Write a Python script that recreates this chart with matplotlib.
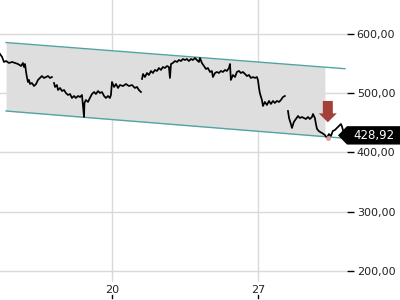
import numpy as np
import matplotlib
matplotlib.use("Agg")
import matplotlib.pyplot as plt
from matplotlib.patches import Polygon, FancyArrow
from matplotlib.transforms import blended_transform_factory

# ---- data (day of month, price) ; NaN = gap between sessions ----
days = [14.63, 14.73, 14.82, 14.92, 15.06, 15.21, 15.35, 15.49, 15.64, 15.73, 15.78, 15.83, 15.88, 15.92,
        15.97, 16.02, 16.07, 16.16, 16.26, 16.36, 16.45, 16.55, 16.64, 16.74, 16.84, 16.93, 17.03, 17.12,
        17.17,
        17.22, 17.27, 17.36, 17.41, 17.51, 17.60, 17.70, 17.79, 17.89, 17.99, 18.08, 18.18, 18.27, 18.37,
        18.47, 18.56, 18.66, 18.68, 18.75, 18.85, 18.94, 19.04, 19.14, 19.23, 19.33, 19.42, 19.52, 19.62,
        19.71, 19.81, 19.90, 19.95, 20.00, 20.10, 20.19, 20.29, 20.38, 20.53, 20.67, 20.81, 20.96, 21.10,
        21.20, 21.29, 21.39,
        21.41,
        21.44, 21.49, 21.58, 21.68, 21.77, 21.87, 21.96, 22.06, 22.16, 22.25, 22.35, 22.44, 22.54, 22.64,
        22.73, 22.78, 22.83, 22.92, 23.02, 23.12, 23.21, 23.31, 23.40, 23.50, 23.59, 23.69, 23.79, 23.88,
        23.98, 24.07, 24.17, 24.22, 24.31, 24.41, 24.51, 24.60, 24.70, 24.79, 24.84, 24.94, 25.03, 25.13,
        25.22, 25.32, 25.42, 25.51, 25.61, 25.66, 25.70, 25.80, 25.90, 25.99, 26.09, 26.18, 26.28, 26.38,
        26.47, 26.57, 26.66, 26.76, 26.85, 26.95, 27.00, 27.05, 27.09, 27.19, 27.24, 27.33, 27.43, 27.53,
        27.62, 27.72, 27.81, 27.91, 28.01, 28.10, 28.20, 28.29,
        28.36,
        28.44, 28.49, 28.58, 28.63, 28.72, 28.82, 28.92, 29.01, 29.11, 29.20, 29.30, 29.40, 29.49, 29.59,
        29.64, 29.73, 29.78, 29.83, 29.92, 30.02, 30.11, 30.21, 30.31, 30.40, 30.50, 30.59, 30.69, 30.79,
        30.88, 30.98, 31.02, 31.12, 31.22]
prices = [566.3, 561.2, 552.8, 554.4, 551.1, 552.8, 551.1, 549.4, 546.0, 551.1, 544.3, 549.4, 535.9, 527.4,
          519.0, 522.4, 515.6, 517.3, 512.2, 515.6, 522.4, 525.8, 529.1, 525.8, 527.4, 529.1, 525.8, 527.4,
          np.nan,
          517.3, 510.6, 513.9, 505.5, 508.9, 503.8, 505.5, 500.4, 497.1, 498.7, 492.0, 495.4, 492.0, 495.4,
          493.7, 497.1, 459.9, 483.6, 488.6, 485.3, 492.0, 498.7, 502.1, 498.7, 503.8, 500.4, 502.1, 495.4,
          492.0, 495.4, 492.0, 497.1, 519.0, 510.6, 515.6, 508.9, 513.9, 512.2, 515.6, 512.2, 513.9, 508.9,
          510.6, 505.5, 502.1,
          np.nan,
          524.1, 532.5, 527.4, 534.2, 530.8, 537.6, 534.2, 539.3, 537.6, 542.6, 539.3, 544.3, 542.6, 546.0,
          544.3, 525.8, 549.4, 551.1, 554.4, 552.8, 556.1, 554.4, 557.8, 556.1, 557.8, 554.4, 557.8, 556.1,
          559.5, 556.1, 552.8, 559.5, 551.1, 546.0, 540.9, 542.6, 535.9, 537.6, 527.4, 534.2, 535.9, 534.2,
          537.6, 535.9, 539.3, 537.6, 542.6, 549.4, 522.4, 530.8, 527.4, 535.9, 537.6, 534.2, 535.9, 532.5,
          529.1, 530.8, 525.8, 527.4, 525.8, 527.4, 522.4, 508.9, 500.4, 488.6, 478.5, 485.3, 480.2, 487.0,
          481.9, 487.0, 483.6, 487.0, 485.3, 488.6, 493.7, 495.4,
          np.nan,
          470.1, 458.2, 448.1, 441.4, 451.5, 456.5, 461.6, 458.2, 459.9, 458.2, 456.5, 459.9, 456.5, 459.9,
          465.0, 458.2, 448.1, 440.0, 436.0, 434.0, 432.0, 429.5, 424.5, 431.2, 427.9, 436.3, 438.0, 441.4,
          444.7, 448.1, 444.7, 432.9, 428.92]

last_value = 428.92
last_label = "428,92"

# trend channel endpoints
chan_days = [14.92, 31.17]
chan_upper = [585.6, 541.4]
chan_lower = [470.0, 424.0]
fill_end_day = 30.21

# sell signal
signal_day = 30.35
signal_top = 487.0
signal_bottom = 451.0
signal_point = 424.0

yticks = [200, 300, 400, 500, 600]
ytick_labels = ["200,00", "300,00", "400,00", "500,00", "600,00"]
xticks = [20, 27]
xtick_labels = ["20", "27"]

# ---- figure ----
fig = plt.figure(figsize=(4, 3), dpi=100)
ax = fig.add_axes([0.0, 0.06, 0.8675, 0.94])
ax.set_xlim(14.63, 31.27)
ax.set_ylim(181.4, 657.4)
for s in ax.spines.values():
    s.set_visible(False)

ax.set_yticks(yticks)
ax.set_yticklabels(ytick_labels)
ax.set_xticks(xticks)
ax.set_xticklabels(xtick_labels)
ax.yaxis.tick_right()
ax.tick_params(axis='y', length=5, width=1, color='black', pad=2, labelsize=8, labelcolor='#222222')
ax.tick_params(axis='x', length=0, pad=2, labelsize=8, labelcolor='#222222')
ax.grid(True, color='#d9d9d9', linewidth=1)
ax.set_axisbelow(True)

# little tick marks below x labels
tb = blended_transform_factory(ax.transData, ax.transAxes)
for xt in xticks:
    ax.plot([xt, xt], [-0.045, -0.058], color='black', lw=1, transform=tb, clip_on=False)

# channel fill
fd = np.linspace(chan_days[0], fill_end_day, 50)
up = np.interp(fd, chan_days, chan_upper)
lo = np.interp(fd, chan_days, chan_lower)
ax.fill_between(fd, lo, up, color='#dedede', zorder=1, linewidth=0)
ax.plot(chan_days, chan_upper, color='#52a3a3', lw=1, zorder=2)
ax.plot(chan_days, chan_lower, color='#52a3a3', lw=1, zorder=2)

# price line
ax.plot(days, prices, color='black', lw=1.25, zorder=3)

# signal arrow
ax.add_patch(FancyArrow(signal_day, signal_top, 0, -(signal_top - signal_bottom), width=0.48,
                        head_width=0.86, head_length=15, length_includes_head=True,
                        color='#a3403a', zorder=4, linewidth=0))
ax.plot([signal_day], [signal_point], marker='o', ms=2.5, color='#e49a9a', zorder=4)

# last value label
bt = blended_transform_factory(fig.transFigure, ax.transData)
h = 15.5
poly = Polygon([(338 / 400, last_value), (347 / 400, last_value + h), (1.0, last_value + h),
                (1.0, last_value - h), (347 / 400, last_value - h)], closed=True,
               transform=bt, facecolor='black', edgecolor='none', clip_on=False, zorder=5)
fig.patches.append(poly)
fig.text(374 / 400, last_value, last_label, transform=bt, color='white', fontsize=8.5,
         ha='center', va='center', zorder=6)

fig.savefig("out.png", dpi=100)
